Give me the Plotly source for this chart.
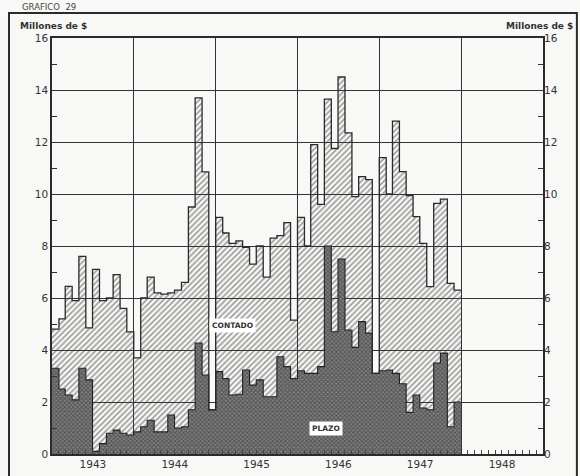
import plotly.graph_objects as go
import pandas as pd

# ---- data (millones de $, monthly) ----
year_labels = ["1943", "1944", "1945", "1946", "1947", "1948"]

total_1943 = [4.8, 5.2, 6.45, 5.9, 7.6, 4.85, 7.1, 5.9, 6.0, 6.9, 5.6, 4.7]
total_1944 = [3.7, 6.0, 6.8, 6.2, 6.15, 6.2, 6.3, 6.6, 9.5, 13.7, 10.85, 1.7]
total_1945 = [9.1, 8.5, 8.1, 8.2, 7.95, 7.3, 8.0, 6.8, 8.3, 8.4, 8.9, 5.15]
total_1946 = [9.1, 8.0, 11.9, 9.6, 13.65, 11.75, 14.5, 12.35, 9.9, 10.67, 10.55, 3.1]
total_1947 = [11.4, 10.0, 12.8, 10.86, 9.94, 9.13, 8.1, 6.44, 9.64, 9.8, 6.56, 6.3]

plazo_1943 = [3.3, 2.5, 2.27, 2.08, 3.3, 2.85, 0.1, 0.4, 0.8, 0.92, 0.8, 0.73]
plazo_1944 = [0.85, 1.05, 1.3, 0.85, 0.85, 1.5, 1.0, 1.05, 1.7, 4.27, 3.04, 1.7]
plazo_1945 = [3.17, 2.9, 2.27, 2.3, 3.23, 2.65, 2.85, 2.2, 2.2, 3.74, 3.36, 2.9]
plazo_1946 = [3.2, 3.1, 3.1, 3.36, 8.0, 4.7, 7.5, 4.77, 4.1, 5.09, 4.65, 3.1]
plazo_1947 = [3.2, 3.23, 3.1, 2.7, 1.6, 2.27, 1.77, 1.7, 3.5, 3.88, 1.05, 2.0]

total = total_1943 + total_1944 + total_1945 + total_1946 + total_1947
plazo = plazo_1943 + plazo_1944 + plazo_1945 + plazo_1946 + plazo_1947

months = list(pd.date_range("1943-01-01", periods=len(total), freq="MS"))
end = pd.Timestamp("1948-01-01")
x = months + [end]
y_total = total + [total[-1]]
y_plazo = plazo + [plazo[-1]]

ink = "#2b2b2b"
paper = "#f8f8f6"

fig = go.Figure()
fig.add_trace(go.Scatter(
    x=x, y=y_plazo, mode="lines", line=dict(shape="hv", color="#222", width=1.1),
    fill="tozeroy",
    fillpattern=dict(shape="x", size=3, solidity=0.5, fgcolor="#222222", bgcolor="#808080"),
    hoverinfo="skip", name="Plazo"))
fig.add_trace(go.Scatter(
    x=x, y=y_total, mode="lines", line=dict(shape="hv", color=ink, width=1.3),
    fill="tonexty",
    fillpattern=dict(shape="/", size=4, solidity=0.4, fgcolor="#3e3e3e",
                     bgcolor="rgba(255,255,255,0)"),
    hoverinfo="skip", name="Contado"))
# invisible trace to carry the right-hand axis
fig.add_trace(go.Scatter(x=[months[0]], y=[0], yaxis="y2", mode="markers",
                         marker=dict(opacity=0), hoverinfo="skip", showlegend=False))

fig.update_layout(
    width=580, height=476,
    margin=dict(l=52, r=37, t=38, b=22),
    paper_bgcolor=paper, plot_bgcolor=paper,
    showlegend=False,
    font=dict(family="DejaVu Sans", color=ink, size=10),
    xaxis=dict(
        type="date", range=["1943-01-01", "1949-01-01"], automargin=False,
        tick0="1943-01-01", dtick="M12", tickformat="%Y", ticklabelmode="period",
        ticks="", showgrid=True, gridcolor="#333", gridwidth=1.2,
        showline=True, linecolor=ink, linewidth=1.6, mirror=True,
        tickfont=dict(size=10.5, color="#333"),
        minor=dict(dtick="M1", tick0="1943-01-01", ticks="inside", ticklen=4,
                   tickcolor="#444", tickwidth=1, showgrid=False),
        zeroline=False, fixedrange=True,
    ),
    yaxis=dict(
        range=[0, 16], dtick=2, showgrid=True, gridcolor="#333", gridwidth=1.2,
        showline=True, linecolor=ink, linewidth=1.6, mirror=True, automargin=False,
        ticks="", tickfont=dict(size=10.5, color="#333"),
        minor=dict(dtick=1, ticks="inside", ticklen=5, tickcolor="#333", tickwidth=1.2),
        zeroline=False, fixedrange=True,
    ),
    yaxis2=dict(
        range=[0, 16], dtick=2, overlaying="y", side="right", showgrid=False,
        automargin=False,
        ticks="", tickfont=dict(size=10.5, color="#333"),
        minor=dict(dtick=1, ticks="inside", ticklen=5, tickcolor="#333", tickwidth=1.2),
        zeroline=False, fixedrange=True,
    ),
)

# outer frame of the printed figure
fig.add_shape(type="rect", xref="paper", yref="paper",
              x0=-0.0876, x1=1.069, y0=-0.2, y1=1.060,
              line=dict(color=ink, width=2))

annots = [
    dict(text="GRAFICO  29", x=-0.065, y=1.0915, xanchor="left", yanchor="top",
         font=dict(size=8.5, color="#444")),
    dict(text="<b>Millones de $</b>", x=-0.07, y=1.03, xanchor="left", yanchor="middle",
         font=dict(size=9, color="#333")),
    dict(text="<b>Millones de $</b>", x=1.065, y=1.03, xanchor="right", yanchor="middle",
         font=dict(size=9, color="#333")),
]
for a in annots:
    fig.add_annotation(xref="paper", yref="paper", showarrow=False, **a)

# series labels
fig.add_annotation(x="1945-03-15", y=4.95, text="<b>CONTADO</b>", showarrow=False,
                   font=dict(size=7.5, color="#333"), bgcolor="#ffffff", borderpad=2)
fig.add_annotation(x="1946-05-10", y=0.98, text="<b>PLAZO</b>", showarrow=False,
                   font=dict(size=7.5, color="#333"), bgcolor="#ffffff", borderpad=2)

fig.write_html("out.html", config={"displayModeBar": False},
               post_script="document.body.style.margin='0';document.body.style.overflow='hidden';")
